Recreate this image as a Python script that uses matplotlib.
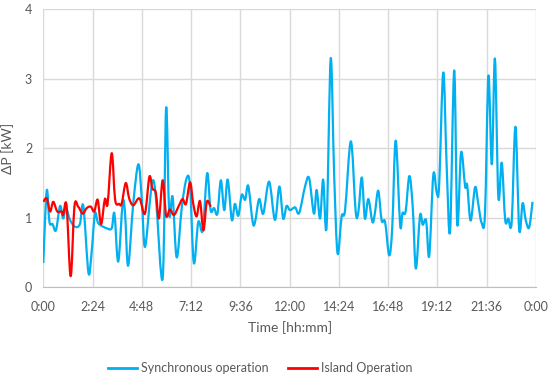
import numpy as np
import matplotlib
matplotlib.use("Agg")
import matplotlib.pyplot as plt
from matplotlib.path import Path
from matplotlib.patches import PathPatch
from matplotlib.lines import Line2D
from matplotlib.ticker import FuncFormatter, MultipleLocator

# time in minutes since midnight, power deviation in kW
sync_min = [0, 10, 18, 27, 37, 49, 58, 66, 78, 93, 107, 117, 132, 141, 151, 161, 185, 200,
            208, 219, 232, 239, 248, 263, 278, 288, 297, 312, 320, 329, 349, 359, 368, 378,
            390, 405, 419, 429, 440, 453, 466, 479, 489, 499, 509, 519, 529, 539, 551, 560,
            570, 580, 590, 599, 612, 619, 631, 643, 660, 677, 690, 701, 711, 721, 736, 748,
            765, 777, 791, 799, 809, 818, 828, 840, 850, 860, 872, 882, 899, 913, 921, 931,
            940, 950, 962, 969, 979, 989, 999, 1011, 1020, 1030, 1043, 1050, 1059, 1070,
            1080, 1089, 1101, 1109, 1119, 1128, 1140, 1150, 1157, 1169, 1179, 1189, 1201,
            1210, 1221, 1233, 1239, 1249, 1262, 1271, 1281, 1291, 1301, 1311, 1320, 1330,
            1340, 1350, 1359, 1369, 1380, 1391, 1401, 1410, 1420, 1430]
sync_kw = [0.35, 1.39, 0.94, 0.91, 0.82, 1.17, 0.99, 1.14, 0.97, 0.87, 0.91, 1.17, 0.21, 0.49,
           1.06, 0.92, 0.85, 0.85, 1.06, 0.37, 1.21, 1.06, 0.31, 1.21, 1.77, 1.26, 0.58, 1.26,
           1.54, 1.30, 0.13, 2.58, 1.06, 1.30, 0.43, 1.16, 1.57, 1.45, 0.35, 0.94, 0.82, 1.64,
           1.11, 1.14, 1.06, 1.54, 1.11, 1.55, 0.97, 1.20, 1.03, 1.33, 1.26, 1.46, 0.94, 0.94,
           1.27, 1.06, 1.52, 0.97, 1.45, 0.99, 1.17, 1.11, 1.15, 1.07, 1.45, 1.57, 1.06, 1.40,
           0.99, 1.55, 0.87, 3.29, 1.64, 0.49, 1.02, 1.11, 2.10, 1.09, 1.09, 1.58, 0.99, 1.27,
           0.94, 1.06, 1.39, 0.96, 0.94, 0.46, 0.87, 2.11, 0.90, 1.07, 1.09, 1.60, 1.14, 0.27,
           1.03, 0.90, 0.96, 0.45, 1.62, 1.36, 1.47, 3.09, 1.74, 0.81, 3.12, 0.91, 1.94, 1.45,
           1.47, 0.96, 1.44, 1.21, 0.93, 1.06, 3.04, 1.77, 3.29, 1.30, 1.79, 0.97, 0.99, 0.94,
           2.31, 0.83, 1.21, 0.97, 0.86, 1.23]

island_min = [0, 10, 20, 29, 41, 54, 58, 68, 80, 91, 102, 115, 127, 139, 149, 159, 169, 180,
              188, 200, 210, 222, 229, 241, 251, 263, 281, 297, 310, 319, 329, 338, 349, 359,
              370, 382, 395, 407, 417, 429, 438, 448, 458, 468, 478, 489]
island_kw = [1.23, 1.28, 1.09, 1.23, 1.09, 1.09, 1.04, 1.18, 0.16, 1.16, 1.16, 1.06, 1.14,
             1.16, 1.09, 1.26, 0.91, 1.27, 1.20, 1.93, 1.26, 1.20, 1.20, 1.50, 1.28, 1.18,
             1.28, 1.06, 1.59, 1.42, 1.36, 0.99, 1.54, 1.03, 1.12, 1.04, 1.16, 1.27, 1.20,
             1.51, 1.21, 1.02, 1.24, 0.82, 1.23, 1.16]


def smooth_path(x, y):
    # Excel-style smoothed line: bezier segments through the data points
    p = np.column_stack([x, y]).astype(float)
    q = np.vstack([p[0], p, p[-1]])
    verts = [p[0]]
    codes = [Path.MOVETO]
    for i in range(len(p) - 1):
        c1 = q[i + 1] + (q[i + 2] - q[i]) / 6
        c2 = q[i + 2] - (q[i + 3] - q[i + 1]) / 6
        verts += [c1, c2, p[i + 1]]
        codes += [Path.CURVE4] * 3
    return Path(verts, codes)


plt.rcParams['font.family'] = ['Lato', 'DejaVu Sans']

fig = plt.figure(figsize=(5.5, 3.76), dpi=100)
ax = fig.add_axes([0.0787, 0.2359, 0.8958, 0.7394])

blue = '#00B0F0'
red = '#FF0000'
ax.add_patch(PathPatch(smooth_path(sync_min, sync_kw), fc='none', ec=blue, lw=1.6,
                       joinstyle='round'))
ax.add_patch(PathPatch(smooth_path(island_min, island_kw), fc='none', ec=red, lw=1.6,
                       joinstyle='round'))

ax.set_xlim(0, 1440)
ax.set_ylim(0, 4)
ax.xaxis.set_major_locator(MultipleLocator(144))
ax.yaxis.set_major_locator(MultipleLocator(1))
ax.xaxis.set_major_formatter(FuncFormatter(
    lambda v, p: '%d:%02d' % ((int(round(v)) // 60) % 24, int(round(v)) % 60)))

ax.grid(True, color='#D9D9D9', lw=1)
ax.set_axisbelow(True)
for s in ['top', 'right', 'left']:
    ax.spines[s].set_visible(False)
ax.spines['bottom'].set_color('#BFBFBF')
ax.tick_params(length=0, colors='#595959', labelsize=9)
ax.tick_params(axis='x', pad=10)
ax.tick_params(axis='y', pad=8)

ax.set_xlabel('Time [hh:mm]', color='#595959', fontsize=10, labelpad=6)
ax.set_ylabel('ΔP [kW]', color='#595959', fontsize=10, labelpad=8)

handles = [Line2D([], [], color=blue, lw=2), Line2D([], [], color=red, lw=2)]
leg = ax.legend(handles, ['Synchronous operation', 'Island Operation'],
                loc='upper center', bbox_to_anchor=(0.44, -0.23), ncol=2, frameon=False,
                fontsize=9, handlelength=2.3, columnspacing=1.6, handletextpad=0.3)
for t in leg.get_texts():
    t.set_color('#595959')

fig.savefig('out.png', dpi=100)
